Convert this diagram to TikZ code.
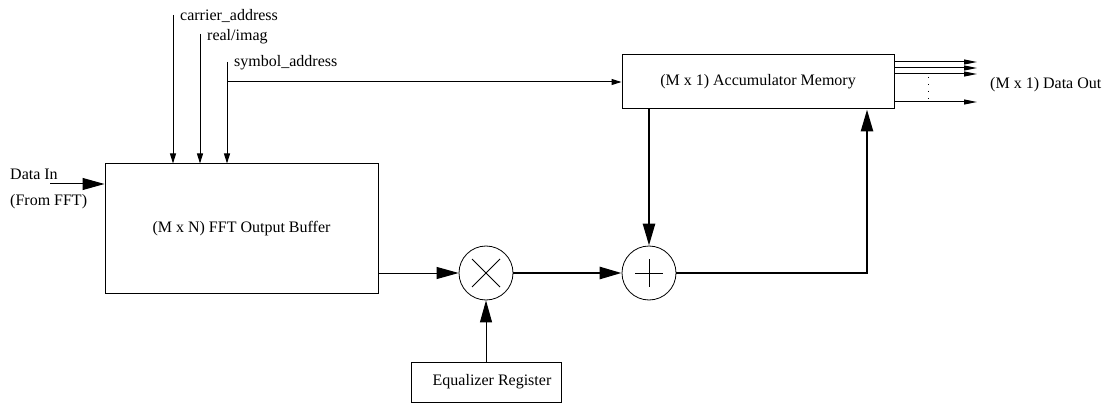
\documentclass[tikz,border=0pt]{standalone}
\usepackage{fontspec}
\setmainfont{Liberation Serif}
\usetikzlibrary{arrows.meta,calc}
\begin{document}
\begin{tikzpicture}[x=1pt,y=-1pt,
  font=\fontsize{16}{19}\selectfont,
  box/.style={draw,line width=1pt,minimum width=#1,inner sep=0pt},
  op/.style={draw,circle,line width=0.8pt,minimum size=54pt,inner sep=0pt},
  thin/.style={line width=1pt},
  thick bus/.style={line width=2.6pt},
  small tip/.style={-{Triangle[length=10pt,width=6pt]}},
  big tip/.style={-{Triangle[length=22pt,width=12pt]}},
  out tip/.style={-{Triangle[length=13pt,width=5pt]}},
  lbl/.style={anchor=west,inner sep=0pt}]
\useasboundingbox (0,0) rectangle (1110,403);

% blocks
\node[box=273pt,minimum height=129pt] (fft) at (241.5,228.5) {(M x N) FFT Output Buffer};
\node[box=272pt,minimum height=54pt] (acc) at (758,82) {(M x 1) Accumulator Memory};
\node[box=150pt,minimum height=40pt] (eq) at (486,382) {\hspace{12pt}Equalizer Register};
\node[op] (mul) at (486,273) {};
\node[op] (add) at (649,273) {};
\draw[line width=0.8pt] ($(mul)+(-14,-14)$) -- ($(mul)+(14,14)$)
                        ($(mul)+(-14,14)$) -- ($(mul)+(14,-14)$);
\draw[line width=0.8pt] ($(add)+(-14,0)$) -- ($(add)+(14,0)$)
                        ($(add)+(0,-14)$) -- ($(add)+(0,14)$);

% control inputs
\coordinate (ca) at (173,15);
\coordinate (ri) at (200,34);
\coordinate (sa) at (227,62);
\coordinate (sab) at (227,82);
\node[lbl] (calbl) at (180,16) {carrier\_address};
\node[lbl] (rilbl) at (207,37) {real/imag};
\node[lbl] (salbl) at (234,63) {symbol\_address};
\draw[thin,small tip] (ca) -- (ca |- fft.north);
\draw[thin,small tip] (ri) -- (ri |- fft.north);
\draw[thin,small tip] (sa) -- (sa |- fft.north);
\draw[thin,small tip] (sab) -- (acc.west |- sab);

% data input
\coordinate (din) at (50,184);
\node[lbl] (dinlbl) at (10,174) {Data In};
\node[lbl] (fromlbl) at (10,202) {(From FFT)};
\draw[thin,big tip] (din) -- (fft.west |- din);

% datapath
\draw[thin,big tip] (fft.east |- mul) -- (mul.west);
\draw[thin,big tip] (eq.north) -- (mul.south);
\draw[thick bus,big tip] (mul.east) -- (add.west);
\draw[thick bus,big tip] (acc.south -| add) -- (add.north);
\coordinate (ret) at (867,273);
\draw[thick bus,big tip] (add.east) -- (ret) -- (ret |- acc.south);

% outputs
\foreach \y/\n in {62/o1,68/o2,74/o3,102/o4}{
  \coordinate (\n) at (977,\y);
  \draw[thin,out tip] (acc.east |- \n) -- (\n);
}
\coordinate (dt) at (928,77);
\coordinate (db) at (928,100);
\draw[line width=1pt,dash pattern=on 1pt off 6pt] (dt) -- (db);
\node[lbl] (outlbl) at (990,85) {(M x 1) Data Out};
\end{tikzpicture}
\end{document}
